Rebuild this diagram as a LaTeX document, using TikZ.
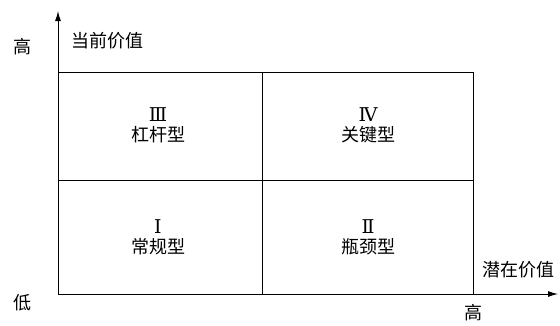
\documentclass[tikz,border=0pt]{standalone}
\usepackage{fontspec}
\newfontfamily\cjk{Noto Sans CJK SC}
\newfontfamily\romfont{DejaVu Serif}
\usetikzlibrary{arrows.meta}
\begin{document}
\begin{tikzpicture}[x=1pt,y=-1pt,
  lbl/.style={font=\cjk\fontsize{18}{20}\selectfont, inner sep=0pt},
  num/.style={font=\romfont\fontsize{19}{20}\selectfont, inner sep=0pt},
  axis/.style={line width=1pt, -{Latex[length=10pt,width=6pt]}},
  grid/.style={line width=1pt}]
\useasboundingbox (0,0) rectangle (560,325);
\coordinate (O) at (58,294);
\coordinate (Ytop) at (58,11);
\coordinate (Xend) at (558,294);
\coordinate (TL) at (58,72);
\coordinate (TR) at (473,72);
\coordinate (BR) at (473,294);
\coordinate (TM) at (262,72);
\coordinate (BM) at (262,294);
\coordinate (ML) at (58,180);
\coordinate (MR) at (473,180);
\draw[axis] (O) -- (Ytop);
\draw[axis] (O) -- (Xend);
\draw[grid] (TL) -- (TR) -- (BR);
\draw[grid] (TM) -- (BM);
\draw[grid] (ML) -- (MR);
\node[lbl] (yhigh) at (22,47) {高};
\node[lbl] (ylabel) at (107,41) {当前价值};
\node[lbl] (ylow) at (22,303) {低};
\node[lbl] (xlabel) at (518,270) {潜在价值};
\node[lbl] (xhigh) at (473,313) {高};
\node[num] (n3) at (158,115) {Ⅲ};
\node[lbl] (q3) at (158,135) {杠杆型};
\node[num] (n4) at (368,115) {Ⅳ};
\node[lbl] (q4) at (368,135) {关键型};
\node[num] (n1) at (158,227) {Ⅰ};
\node[lbl] (q1) at (158,247) {常规型};
\node[num] (n2) at (368,227) {Ⅱ};
\node[lbl] (q2) at (368,247) {瓶颈型};
\end{tikzpicture}
\end{document}
